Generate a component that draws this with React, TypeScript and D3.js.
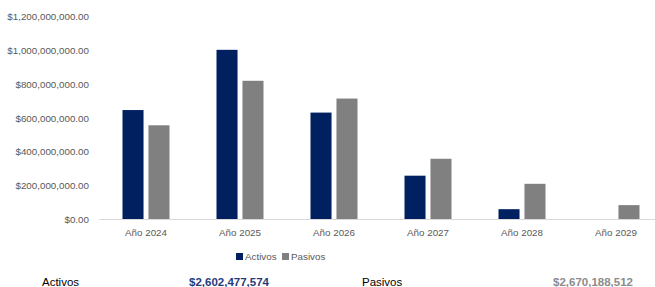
import { useRef, useEffect } from "react";
import * as d3 from "d3";

const years = ["Año 2024", "Año 2025", "Año 2026", "Año 2027", "Año 2028", "Año 2029"];
const seriesNames = ["Activos", "Pasivos"];
const activos = [647000000, 1003000000, 632000000, 259000000, 61000000, 0];
const pasivos = [557000000, 820000000, 715000000, 359000000, 211000000, 85000000];
const yTicks = [0, 200000000, 400000000, 600000000, 800000000, 1000000000, 1200000000];
const totals = [
  { label: "Activos", value: "$2,602,477,574" },
  { label: "Pasivos", value: "$2,670,188,512" },
];

const width = 655;
const height = 287;
const colors = ["#002060", "#808080"];
const font = "'Liberation Sans', Arial, sans-serif";

export default function App() {
  const ref = useRef<SVGSVGElement | null>(null);

  useEffect(() => {
    const svg = d3.select(ref.current).attr("width", width).attr("height", height);
    svg.selectAll("*").remove();

    const x0 = d3.scaleBand().domain(years).range([99, 663]);
    const x1 = d3
      .scaleBand()
      .domain(seriesNames)
      .range([23.5, 70.5])
      .paddingInner(0.19)
      .paddingOuter(0);
    const y = d3.scaleLinear().domain([0, 1200000000]).range([219.5, 16.5]);

    const fmt = (v: number) => "$" + d3.format(",.2f")(v);

    // y labels, no axis line
    const yAxis = svg
      .append("g")
      .attr("transform", "translate(89,0)")
      .call(d3.axisLeft(y).tickValues(yTicks).tickFormat((d) => fmt(+d)).tickSize(0).tickPadding(0));
    yAxis.select(".domain").remove();
    yAxis
      .selectAll("text")
      .attr("fill", "#595959")
      .attr("font-family", font)
      .attr("font-size", 9.8);

    const rows = years.map((yr, i) => ({ yr, vals: [activos[i], pasivos[i]] }));

    const groups = svg
      .selectAll("g.cat")
      .data(rows)
      .join("g")
      .attr("class", "cat")
      .attr("transform", (d) => `translate(${x0(d.yr)},0)`);

    groups
      .selectAll("rect")
      .data((d) => d.vals.map((v, k) => ({ key: seriesNames[k], v, k })))
      .join("rect")
      .filter((d) => d.v > 0)
      .attr("x", (d) => x1(d.key)!)
      .attr("width", x1.bandwidth())
      .attr("y", (d) => y(d.v))
      .attr("height", (d) => y(0) - y(d.v))
      .attr("fill", (d) => colors[d.k]);

    // baseline
    svg
      .append("line")
      .attr("x1", 99)
      .attr("x2", width)
      .attr("y1", y(0))
      .attr("y2", y(0))
      .attr("stroke", "#d9d9d9")
      .attr("stroke-width", 1);

    const xAxis = svg
      .append("g")
      .attr("transform", `translate(0,${y(0)})`)
      .call(d3.axisBottom(x0).tickSize(0).tickPadding(10));
    xAxis.select(".domain").remove();
    xAxis
      .selectAll("text")
      .attr("fill", "#595959")
      .attr("font-family", font)
      .attr("font-size", 9.8);

    // legend
    const legend = svg.append("g").attr("transform", "translate(236,253)");
    const lx = [0, 46];
    seriesNames.forEach((name, k) => {
      const g = legend.append("g").attr("transform", `translate(${lx[k]},0)`);
      g.append("rect").attr("width", 7).attr("height", 7).attr("fill", colors[k]);
      g.append("text")
        .attr("x", 9)
        .attr("y", 7)
        .attr("fill", "#595959")
        .attr("font-family", font)
        .attr("font-size", 9.8)
        .text(name);
    });

    // totals row
    const tx = [
      { label: 42, value: 269 },
      { label: 362, value: 633 },
    ];
    totals.forEach((t, k) => {
      svg
        .append("text")
        .attr("x", tx[k].label)
        .attr("y", 286)
        .attr("fill", "#000")
        .attr("font-family", font)
        .attr("font-size", 11.5)
        .text(t.label);
      svg
        .append("text")
        .attr("x", tx[k].value)
        .attr("y", 286)
        .attr("text-anchor", "end")
        .attr("fill", k === 0 ? "#1f3b7a" : "#8c8c8c")
        .attr("font-family", font)
        .attr("font-weight", "bold")
        .attr("font-size", 11.5)
        .text(t.value);
    });
  }, []);

  return <svg ref={ref} style={{ position: "absolute", left: 0, top: 0 }} />;
}
